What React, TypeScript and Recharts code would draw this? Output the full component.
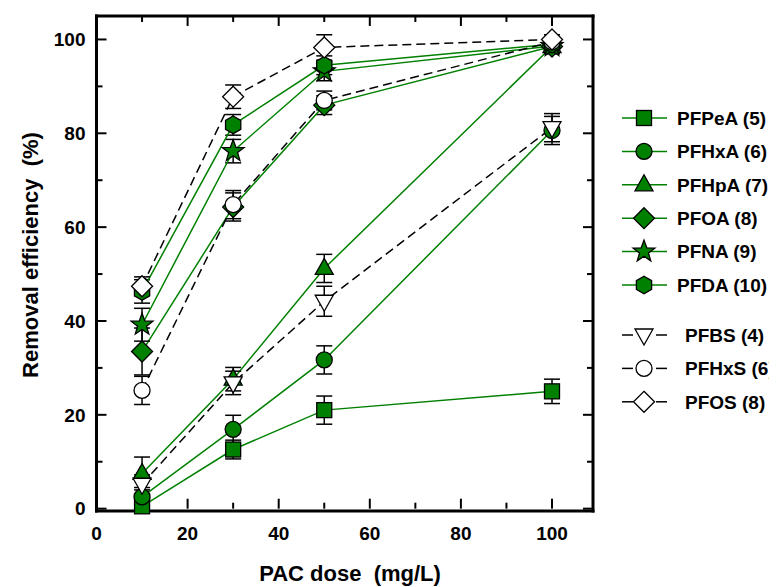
import React from 'react';
import { LineChart, Line, XAxis, YAxis, ErrorBar, Customized, ReferenceLine } from 'recharts';

// ---------- data ----------
const doses = [10, 30, 50, 100];

const PFPeA = [0.5, 12.6, 21.0, 25.0];
const PFPeA_err = [1.0, 2.0, 3.0, 2.6];
const PFHxA = [2.5, 16.9, 31.7, 80.6];
const PFHxA_err = [2.0, 3.0, 3.0, 3.0];
const PFHpA = [7.5, 27.6, 51.2, 98.5];
const PFHpA_err = [3.5, 2.5, 3.0, 1.5];
const PFOA = [33.5, 64.3, 86.0, 98.5];
const PFOA_err = [5.0, 3.0, 2.0, 1.5];
const PFNA = [39.2, 76.2, 93.2, 98.6];
const PFNA_err = [3.5, 2.5, 2.0, 1.5];
const PFDA = [46.3, 81.8, 94.5, 99.0];
const PFDA_err = [2.5, 2.2, 2.0, 1.5];
const PFBS = [5.2, 26.8, 44.2, 81.2];
const PFBS_err = [2.0, 2.5, 3.2, 3.0];
const PFHxS = [25.2, 64.8, 87.0, 99.5];
const PFHxS_err = [3.0, 3.0, 2.0, 1.0];
const PFOS = [47.4, 87.8, 98.3, 100.0];
const PFOS_err = [2.0, 2.5, 2.7, 1.0];

// major ticks every 20 (labelled), minor every 10
const xTicks = [0, 10, 20, 30, 40, 50, 60, 70, 80, 90, 100];
const yTicks = [0, 10, 20, 30, 40, 50, 60, 70, 80, 90, 100];
const majorStep = 20;
const xMin = 0;
const xMax = 109;
const yMin = 0;
const yMax = 105;

const xTitle = 'PAC dose  (mg/L)';
const yTitle = 'Removal efficiency  (%)';

type Shape = 'square' | 'circle' | 'triangle' | 'diamond' | 'star' | 'hexagon' | 'triangleDown';

const GREEN = '#008000';

const series: { name: string; values: number[]; errors: number[]; shape: Shape; open: boolean }[] = [
  { name: 'PFPeA (5)', values: PFPeA, errors: PFPeA_err, shape: 'square', open: false },
  { name: 'PFHxA (6)', values: PFHxA, errors: PFHxA_err, shape: 'circle', open: false },
  { name: 'PFHpA (7)', values: PFHpA, errors: PFHpA_err, shape: 'triangle', open: false },
  { name: 'PFOA (8)', values: PFOA, errors: PFOA_err, shape: 'diamond', open: false },
  { name: 'PFNA (9)', values: PFNA, errors: PFNA_err, shape: 'star', open: false },
  { name: 'PFDA (10)', values: PFDA, errors: PFDA_err, shape: 'hexagon', open: false },
  { name: 'PFBS (4)', values: PFBS, errors: PFBS_err, shape: 'triangleDown', open: true },
  { name: 'PFHxS (6)', values: PFHxS, errors: PFHxS_err, shape: 'circle', open: true },
  { name: 'PFOS (8)', values: PFOS, errors: PFOS_err, shape: 'diamond', open: true },
];

const FONT = 'Arial, "Liberation Sans", sans-serif';

// chart geometry
const CHART_W = 769;
const CHART_H = 579;
const MARGIN = { top: 8, right: 184, bottom: 36, left: 18.5 };
const Y_AXIS_W = 70;
const X_AXIS_H = 40;
const plotW = CHART_W - MARGIN.left - MARGIN.right - Y_AXIS_W;
const plotH = CHART_H - MARGIN.top - MARGIN.bottom - X_AXIS_H;
// tick lengths (px) expressed in data units
const MAJOR_PX = 10;
const MINOR_PX = 6;
const xPerPx = (xMax - xMin) / plotW;
const yPerPx = (yMax - yMin) / plotH;
const isMajor = (v: number) => v % majorStep === 0;

// ---------- marker shapes ----------
function pts(arr: number[][]) {
  return arr.map((p) => `${p[0]},${p[1]}`).join(' ');
}

function Marker({ shape, cx, cy, fill }: { shape: Shape; cx: number; cy: number; fill: string }) {
  const common = { fill, stroke: '#000', strokeWidth: 1.3 };
  switch (shape) {
    case 'square':
      return <rect x={cx - 7.5} y={cy - 7.5} width={15} height={15} {...common} />;
    case 'circle':
      return <circle cx={cx} cy={cy} r={8} {...common} />;
    case 'triangle':
      return <polygon points={pts([[cx, cy - 10], [cx + 9, cy + 6], [cx - 9, cy + 6]])} {...common} />;
    case 'triangleDown':
      return <polygon points={pts([[cx - 9, cy - 6], [cx + 9, cy - 6], [cx, cy + 10]])} {...common} />;
    case 'diamond':
      return <polygon points={pts([[cx, cy - 10.5], [cx + 10.5, cy], [cx, cy + 10.5], [cx - 10.5, cy]])} {...common} />;
    case 'star': {
      const p: number[][] = [];
      for (let i = 0; i < 10; i++) {
        const r = i % 2 === 0 ? 11.5 : 4.7;
        const a = -Math.PI / 2 + (i * Math.PI) / 5;
        p.push([cx + r * Math.cos(a), cy + r * Math.sin(a)]);
      }
      return <polygon points={pts(p)} {...common} />;
    }
    case 'hexagon': {
      const p: number[][] = [];
      for (let i = 0; i < 6; i++) {
        const a = -Math.PI / 2 + (i * Math.PI) / 3;
        p.push([cx + 8.8 * Math.cos(a), cy + 8.8 * Math.sin(a)]);
      }
      return <polygon points={pts(p)} {...common} />;
    }
  }
  return null;
}

// ---------- tick labels ----------
function BottomTick(props: any) {
  const { x, y, payload } = props;
  const v = payload.value;
  if (!isMajor(v)) return <g />;
  return (
    <text x={x} y={y + 29} textAnchor="middle" fontSize={19} fontWeight="bold" fill="#000" fontFamily={FONT}>
      {v}
    </text>
  );
}
function LeftTick(props: any) {
  const { x, y, payload } = props;
  const v = payload.value;
  if (!isMajor(v)) return <g />;
  return (
    <text x={x - 11} y={y + 6.8} textAnchor="end" fontSize={19} fontWeight="bold" fill="#000" fontFamily={FONT}>
      {v}
    </text>
  );
}

// ---------- legend & titles (drawn in the svg) ----------
const legendX = 636;
const legendGreenTop = 110;
const legendBlackTop = 327;
const legendStep = 33.4;

function Decorations() {
  const greens = series.filter((s) => !s.open);
  const blacks = series.filter((s) => s.open);
  return (
    <g style={{ fontFamily: FONT, fontWeight: 'bold' }}>
      {greens.map((s, i) => {
        const y = legendGreenTop + i * legendStep;
        return (
          <g key={s.name}>
            <line x1={legendX - 22} x2={legendX + 23} y1={y} y2={y} stroke={GREEN} strokeWidth={1.5} />
            <Marker shape={s.shape} cx={legendX} cy={y} fill={GREEN} />
            <text x={legendX + 33} y={y + 6.8} fontSize={19} fill="#000">{s.name}</text>
          </g>
        );
      })}
      {blacks.map((s, i) => {
        const y = legendBlackTop + i * legendStep;
        return (
          <g key={s.name}>
            <line x1={legendX - 22} x2={legendX - 11} y1={y} y2={y} stroke="#000" strokeWidth={1.5} />
            <line x1={legendX + 12} x2={legendX + 23} y1={y} y2={y} stroke="#000" strokeWidth={1.5} />
            <Marker shape={s.shape} cx={legendX} cy={y} fill="#fff" />
            <text x={legendX + 41} y={y + 6.8} fontSize={19} fill="#000">{s.name}</text>
          </g>
        );
      })}
      <text x={342} y={573} fontSize={22} textAnchor="middle" fill="#000" style={{ whiteSpace: 'pre' }}>
        {xTitle}
      </text>
      <text
        x={30}
        y={247}
        fontSize={22}
        textAnchor="middle"
        fill="#000"
        transform="rotate(-90, 30, 247)"
        style={{ whiteSpace: 'pre' }}
      >
        {yTitle}
      </text>
    </g>
  );
}

const boxLine = { stroke: '#000', strokeWidth: 3, strokeLinecap: 'square' as const };

export default function App() {
  const tickMarks: React.ReactNode[] = [];
  xTicks.forEach((v) => {
    const dy = (isMajor(v) ? MAJOR_PX : MINOR_PX) * yPerPx;
    tickMarks.push(
      <ReferenceLine key={`xb${v}`} xAxisId="x" yAxisId="y" segment={[{ x: v, y: yMin }, { x: v, y: yMin + dy }]} stroke="#000" strokeWidth={2} />,
      <ReferenceLine key={`xt${v}`} xAxisId="x" yAxisId="y" segment={[{ x: v, y: yMax }, { x: v, y: yMax - dy }]} stroke="#000" strokeWidth={2} />
    );
  });
  yTicks.forEach((v) => {
    const dx = (isMajor(v) ? MAJOR_PX : MINOR_PX) * xPerPx;
    tickMarks.push(
      <ReferenceLine key={`yl${v}`} xAxisId="x" yAxisId="y" segment={[{ x: xMin, y: v }, { x: xMin + dx, y: v }]} stroke="#000" strokeWidth={2} />,
      <ReferenceLine key={`yr${v}`} xAxisId="x" yAxisId="y" segment={[{ x: xMax, y: v }, { x: xMax - dx, y: v }]} stroke="#000" strokeWidth={2} />
    );
  });

  return (
    <div style={{ width: CHART_W, height: CHART_H, fontFamily: FONT }}>
      <LineChart width={CHART_W} height={CHART_H} margin={MARGIN}>
        <XAxis
          xAxisId="x"
          type="number"
          dataKey="x"
          domain={[xMin, xMax]}
          ticks={xTicks}
          interval={0}
          tickLine={false}
          tickSize={0}
          tickMargin={0}
          axisLine={boxLine}
          tick={BottomTick}
          height={X_AXIS_H}
        />
        <YAxis
          yAxisId="y"
          type="number"
          domain={[yMin, yMax]}
          ticks={yTicks}
          interval={0}
          tickLine={false}
          tickSize={0}
          tickMargin={0}
          axisLine={boxLine}
          tick={LeftTick}
          width={Y_AXIS_W}
        />
        <ReferenceLine xAxisId="x" yAxisId="y" y={yMax} stroke="#000" strokeWidth={3} strokeLinecap="square" />
        <ReferenceLine xAxisId="x" yAxisId="y" x={xMax} stroke="#000" strokeWidth={3} strokeLinecap="square" />
        {tickMarks}

        {series.map((s) => {
          const data = doses.map((d, i) => ({ x: d, y: s.values[i], e: s.errors[i] }));
          const fill = s.open ? '#fff' : GREEN;
          return (
            <Line
              key={s.name}
              name={s.name}
              xAxisId="x"
              yAxisId="y"
              data={data}
              dataKey="y"
              type="linear"
              stroke={s.open ? '#000' : GREEN}
              strokeWidth={1.5}
              strokeDasharray={s.open ? '9 5' : undefined}
              isAnimationActive={false}
              activeDot={false}
              legendType="none"
              dot={(p: any) => <Marker key={`${s.name}-${p.index}`} shape={s.shape} cx={p.cx} cy={p.cy} fill={fill} />}
            >
              <ErrorBar dataKey="e" direction="y" width={8} stroke="#000" strokeWidth={1.5} isAnimationActive={false} />
            </Line>
          );
        })}
        <Customized component={Decorations} />
      </LineChart>
    </div>
  );
}
